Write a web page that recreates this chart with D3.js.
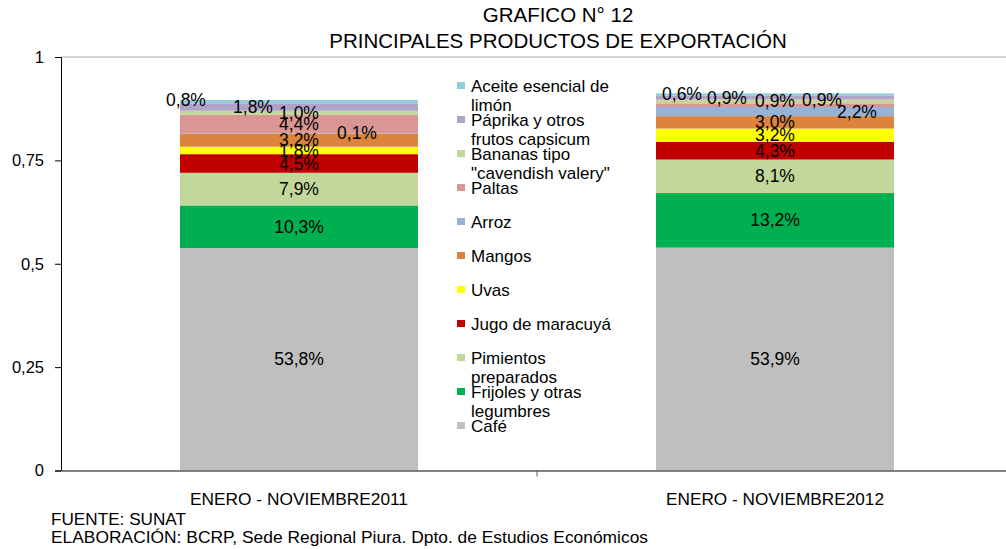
<!DOCTYPE html>
<html>
<head>
<meta charset="utf-8">
<script src="https://cdn.jsdelivr.net/npm/d3@7"></script>
<style>
  body { margin: 0; background: #fff; }
  svg text { font-family: "Liberation Sans", Arial, sans-serif; fill: #000; }
</style>
</head>
<body>
<div id="container"></div>
<script>
/* DATA */
const periods = ["ENERO - NOVIEMBRE2011", "ENERO - NOVIEMBRE2012"];
// stacked from bottom to top
const products = ["Café", "Frijoles y otras legumbres", "Pimientos preparados", "Jugo de maracuyá",
  "Uvas", "Mangos", "Arroz", "Paltas", "Bananas tipo \"cavendish valery\"",
  "Páprika y otros frutos capsicum", "Aceite esencial de limón"];
const values2011 = [53.8, 10.3, 7.9, 4.5, 1.8, 3.2, 0.1, 4.4, 1.0, 1.8, 0.8];
const values2012 = [53.9, 13.2, 8.1, 4.3, 3.2, 3.0, 2.2, 0.9, 0.9, 0.9, 0.6];
const yTicks = [0, 0.25, 0.5, 0.75, 1];
const yTickLabels = ["0", "0,25", "0,5", "0,75", "1"];

const colors = ["#bfbfbf", "#00b050", "#c4d79b", "#c00000", "#ffff00", "#dc843e",
  "#95b3d7", "#d99694", "#c4d79b", "#b3a2c7", "#93cddd"];
// legend text split like the original
const legendLines = {
  "Aceite esencial de limón": ["Aceite esencial de", "limón"],
  "Páprika y otros frutos capsicum": ["Páprika y otros", "frutos capsicum"],
  "Bananas tipo \"cavendish valery\"": ["Bananas tipo", "\"cavendish valery\""],
  "Pimientos preparados": ["Pimientos", "preparados"],
  "Frijoles y otras legumbres": ["Frijoles y otras", "legumbres"]
};
// hand-moved labels (dx, dy in px) per period
const labelNudge = [
  {"Aceite esencial de limón": [-113, -2], "Páprika y otros frutos capsicum": [-46, 0], "Arroz": [58, 0]},
  {"Aceite esencial de limón": [-93, -1], "Páprika y otros frutos capsicum": [-48, 0],
   "Bananas tipo \"cavendish valery\"": [0, -1], "Paltas": [47, -5], "Arroz": [82, 0]}
];

const width = 1006, height = 549,
  margin = {top: 57, bottom: 78, left: 61, right: -7};

const rows = periods.map((p, i) => {
  const r = {period: p};
  const vals = i === 0 ? values2011 : values2012;
  products.forEach((k, j) => r[k] = vals[j] / 100);
  return r;
});

const stack = d3.stack().keys(products)(rows);

const svg = d3.select("#container").append("svg")
  .attr("width", width).attr("height", height);

const xScale = d3.scaleBand()
  .domain(periods)
  .range([margin.left, width - margin.right])
  .paddingInner(0.5).paddingOuter(0.25);

const yScale = d3.scaleLinear()
  .domain([0, 1])
  .range([height - margin.bottom - 0.5, margin.top]);

// plot frame top
svg.append("line")
  .attr("x1", margin.left).attr("x2", width)
  .attr("y1", yScale(1)).attr("y2", yScale(1))
  .attr("stroke", "#a6a6a6");

// bars
svg.append("g").selectAll("g")
  .data(stack)
  .join("g")
  .attr("fill", (d, i) => colors[i])
  .selectAll("rect")
  .data(d => d)
  .join("rect")
  .attr("x", d => xScale(d.data.period))
  .attr("width", xScale.bandwidth())
  .attr("y", d => yScale(d[1]))
  .attr("height", d => yScale(d[0]) - yScale(d[1]));

// value labels
const labels = [];
stack.forEach((s, i) => s.forEach((d, j) => {
  const nudge = labelNudge[j][s.key] || [0, 0];
  labels.push({
    x: xScale(d.data.period) + xScale.bandwidth() / 2 + nudge[0],
    y: yScale((d[0] + d[1]) / 2) + nudge[1],
    text: d3.format(".1f")((d[1] - d[0]) * 100).replace(".", ",") + "%"
  });
}));
svg.append("g").selectAll("text")
  .data(labels)
  .join("text")
  .attr("x", d => d.x).attr("y", d => d.y)
  .attr("dy", "0.35em")
  .attr("text-anchor", "middle")
  .attr("font-size", 17.5)
  .text(d => d.text);

// y axis
const yAxis = d3.axisLeft(yScale)
  .tickValues(yTicks)
  .tickFormat((d, i) => yTickLabels[i])
  .tickSize(6).tickPadding(11);
svg.append("g")
  .attr("transform", `translate(${margin.left},0)`)
  .call(yAxis)
  .call(g => g.selectAll("text").attr("font-size", 16.5).attr("fill", "#000"))
  .call(g => g.selectAll("line, path").attr("stroke", "#000"));

// x axis
const xAxis = d3.axisBottom(xScale).tickSize(0).tickPadding(22);
svg.append("g")
  .attr("transform", `translate(0,${yScale(0)})`)
  .call(xAxis)
  .call(g => g.select(".domain").attr("stroke", "#595959").attr("stroke-width", 1.5))
  .call(g => g.selectAll("text").attr("font-size", 17).attr("fill", "#000")
    .attr("textLength", 218).attr("lengthAdjust", "spacingAndGlyphs"));
// middle category tick
svg.append("line")
  .attr("x1", (xScale(periods[0]) + xScale(periods[1]) + xScale.bandwidth()) / 2)
  .attr("x2", (xScale(periods[0]) + xScale(periods[1]) + xScale.bandwidth()) / 2)
  .attr("y1", yScale(0)).attr("y2", yScale(0) + 6)
  .attr("stroke", "#595959");

// legend (top item first)
const legendItems = products.slice().reverse();
const legend = svg.append("g").attr("transform", "translate(457,86)");
legendItems.forEach((name, i) => {
  const g = legend.append("g").attr("transform", `translate(0,${i * 34})`);
  g.append("rect")
    .attr("x", 0).attr("y", -4).attr("width", 8).attr("height", 7)
    .attr("fill", colors[products.indexOf(name)]);
  const lines = legendLines[name] || [name];
  g.append("text")
    .attr("x", 14).attr("font-size", 17)
    .selectAll("tspan")
    .data(lines)
    .join("tspan")
    .attr("x", 14)
    .attr("y", (d, k) => k * 19)
    .attr("dy", "0.35em")
    .text(d => d);
});

// title
svg.append("text")
  .attr("x", 558).attr("y", 22)
  .attr("text-anchor", "middle").attr("font-size", 20.5)
  .text("GRAFICO N° 12");
svg.append("text")
  .attr("x", 558).attr("y", 48)
  .attr("text-anchor", "middle").attr("font-size", 20.5)
  .text("PRINCIPALES PRODUCTOS DE EXPORTACIÓN");

// footer
svg.append("text")
  .attr("x", 51).attr("y", 525)
  .attr("font-size", 17)
  .attr("textLength", 135).attr("lengthAdjust", "spacingAndGlyphs")
  .text("FUENTE: SUNAT");
svg.append("text")
  .attr("x", 51).attr("y", 543)
  .attr("font-size", 17)
  .attr("textLength", 597).attr("lengthAdjust", "spacingAndGlyphs")
  .text("ELABORACIÓN: BCRP, Sede Regional Piura. Dpto. de Estudios Económicos");
</script>
</body>
</html>
